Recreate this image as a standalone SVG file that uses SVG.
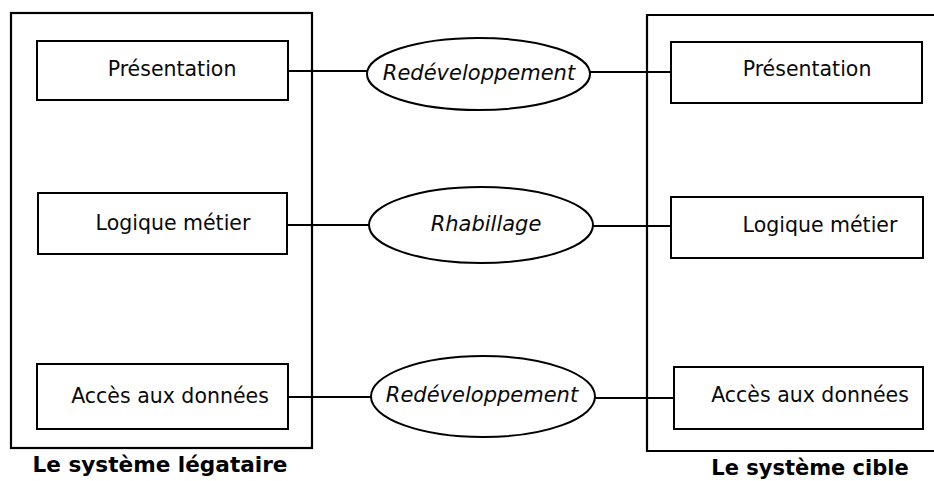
<svg xmlns="http://www.w3.org/2000/svg" width="934" height="481" viewBox="0 0 934 481">
  <style>
    .frame { fill: none; stroke: #000; stroke-width: 2.2; }
    .box { fill: #fff; stroke: #000; stroke-width: 2; }
    .oval { fill: #fff; stroke: #000; stroke-width: 2; }
    .wire { fill: none; stroke: #000; stroke-width: 1.8; }
    .lbl { font-family: "DejaVu Sans", Verdana, sans-serif; font-size: 20.5px; fill: #0a0a0a; text-anchor: middle; }
    .act { font-family: "DejaVu Sans", Verdana, sans-serif; font-size: 21px; font-style: italic; fill: #0a0a0a; text-anchor: middle; }
    .title { font-family: "DejaVu Sans", Verdana, sans-serif; font-size: 21px; font-weight: bold; fill: #000; text-anchor: middle; }
  </style>
  <rect width="934" height="481" fill="#fff"/>

  <!-- system containers -->
  <g id="legacy-system">
    <rect class="frame" x="11" y="13" width="301" height="435"/>
    <text class="title" x="160" y="472" style="font-size:21.6px">Le système légataire</text>
  </g>
  <g id="target-system">
    <path class="frame" d="M934 15 H647 V451 H934"/>
    <text class="title" x="810" y="475">Le système cible</text>
  </g>

  <!-- connectors -->
  <g id="connectors">
    <line class="wire" x1="288" y1="71" x2="367" y2="71"/>
    <line class="wire" x1="590" y1="72" x2="671" y2="72"/>
    <line class="wire" x1="287" y1="225" x2="369" y2="225"/>
    <line class="wire" x1="593" y1="226" x2="671" y2="226"/>
    <line class="wire" x1="288" y1="397" x2="371" y2="397"/>
    <line class="wire" x1="595" y1="398" x2="674" y2="398"/>
  </g>

  <!-- legacy layers -->
  <g id="legacy-presentation">
    <rect class="box" x="37" y="41" width="251" height="59"/>
    <text class="lbl" x="172" y="76">Présentation</text>
  </g>
  <g id="legacy-logic">
    <rect class="box" x="38" y="193" width="249" height="61"/>
    <text class="lbl" x="173" y="230">Logique métier</text>
  </g>
  <g id="legacy-data">
    <rect class="box" x="37" y="364" width="251" height="65"/>
    <text class="lbl" x="170" y="403">Accès aux données</text>
  </g>

  <!-- transformations -->
  <g id="redev-presentation">
    <ellipse class="oval" cx="478.5" cy="74" rx="111.5" ry="36"/>
    <text class="act" x="479" y="80">Redéveloppement</text>
  </g>
  <g id="rewrap-logic">
    <ellipse class="oval" cx="481" cy="225" rx="112" ry="38"/>
    <text class="act" x="486" y="231">Rhabillage</text>
  </g>
  <g id="redev-data">
    <ellipse class="oval" cx="483" cy="396.5" rx="112" ry="40.5"/>
    <text class="act" x="482" y="402">Redéveloppement</text>
  </g>

  <!-- target layers -->
  <g id="target-presentation">
    <rect class="box" x="671" y="42" width="251" height="61"/>
    <text class="lbl" x="807" y="76">Présentation</text>
  </g>
  <g id="target-logic">
    <rect class="box" x="671" y="197" width="252" height="61"/>
    <text class="lbl" x="820" y="232">Logique métier</text>
  </g>
  <g id="target-data">
    <rect class="box" x="674" y="367" width="249" height="62"/>
    <text class="lbl" x="810" y="402">Accès aux données</text>
  </g>
</svg>
